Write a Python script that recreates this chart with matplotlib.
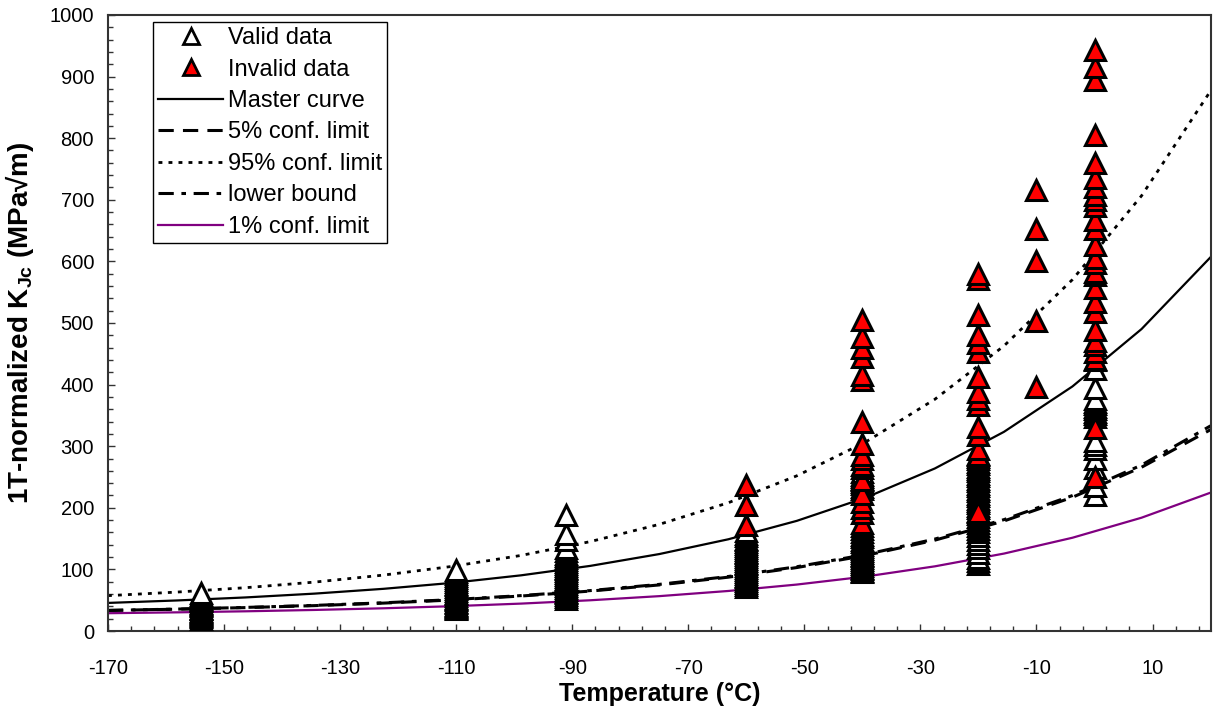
import numpy as np
import matplotlib
matplotlib.use("Agg")
import matplotlib.pyplot as plt
from matplotlib.lines import Line2D

plt.rcParams['font.family'] = ['Liberation Sans', 'DejaVu Sans']
plt.rcParams['mathtext.fontset'] = 'custom'
plt.rcParams['mathtext.rm'] = 'Liberation Sans'
plt.rcParams['mathtext.bf'] = 'Liberation Sans:bold'
plt.rcParams['axes.unicode_minus'] = False

# test temperatures (deg C) and 1T-normalized KJc values
K_valid_154 = [20, 22, 24, 26, 27, 29, 31, 33, 35, 36, 38, 40, 42, 44, 46, 48, 50, 52, 55, 58, 61]
K_valid_110 = [35, 37, 39, 41, 43, 45, 47, 50, 52, 54, 57, 60, 62, 65, 68, 71, 74, 77, 80, 83,
               86, 89, 92, 95, 99]
K_valid_91 = [52, 55, 58, 61, 64, 67, 70, 73, 76, 79, 82, 85, 88, 91, 94, 97, 100, 103, 106,
              109, 112, 115, 118, 121, 125, 130, 135, 147, 157, 189]
K_valid_60 = [72, 75, 78, 81, 84, 87, 90, 93, 96, 99, 102, 105, 108, 111, 114, 117, 120, 123,
              126, 129, 132, 135, 138, 141, 144, 147, 150, 154, 158, 162]
K_valid_40 = [95, 97, 100, 103, 106, 109, 112, 115, 118, 121, 124, 127, 130, 133, 136, 140,
              144, 148, 152, 156, 160, 165, 230, 234, 238, 242, 246, 250, 254, 258]
K_valid_20 = [108, 113, 118, 126, 134, 141, 148, 155, 160, 165, 170, 175, 180, 185, 190, 195,
              199, 203, 207, 211, 215, 219, 223, 227, 231, 235, 239, 243, 247, 251, 255, 259,
              263, 267, 271, 275, 279, 283, 287]
K_valid_0 = [221, 236, 264, 280, 296, 302, 308, 348, 352, 356, 360, 364, 368, 372, 377, 394,
             426, 440]

K_invalid_60 = [172, 205, 237]
K_invalid_40 = [170, 175, 191, 200, 209, 223, 245, 264, 270, 280, 285, 304, 339, 407, 415, 445,
                459, 477, 505]
K_invalid_20 = [193, 286, 296, 318, 331, 367, 377, 388, 412, 453, 467, 480, 513, 572, 580]
K_invalid_10 = [396, 503, 600, 653, 716]
K_invalid_0 = [250, 329, 442, 453, 464, 470, 489, 518, 534, 556, 578, 583, 597, 605, 627, 653,
               667, 690, 700, 708, 720, 735, 759, 805, 894, 916, 943]

T_valid = ([-154] * len(K_valid_154) + [-110] * len(K_valid_110) + [-91] * len(K_valid_91)
           + [-60] * len(K_valid_60) + [-40] * len(K_valid_40) + [-20] * len(K_valid_20)
           + [0] * len(K_valid_0))
K_valid = K_valid_154 + K_valid_110 + K_valid_91 + K_valid_60 + K_valid_40 + K_valid_20 + K_valid_0

T_invalid = ([-60] * len(K_invalid_60) + [-40] * len(K_invalid_40) + [-20] * len(K_invalid_20)
             + [-10] * len(K_invalid_10) + [0] * len(K_invalid_0))
K_invalid = K_invalid_60 + K_invalid_40 + K_invalid_20 + K_invalid_10 + K_invalid_0

# curves, read at the chart's line vertices
T_curve = [-170, -158.1, -146.3, -134.4, -122.5, -110.6, -98.8, -86.9, -75.0,
           -63.1, -51.3, -39.4, -27.5, -15.6, -3.8, 8.1, 20.0]
K_master = [45.6, 49.6, 54.5, 60.7, 68.5, 78.2, 90.4, 105.7, 124.9, 148.9,
            178.8, 216.6, 263.9, 323.3, 397.0, 490.1, 606.8]
K_05 = [33.4, 35.4, 38.0, 41.2, 45.3, 50.4, 56.8, 64.8, 74.8, 87.4, 103.0,
        122.7, 147.5, 178.6, 217.1, 265.8, 326.8]
K_95 = [57.4, 63.2, 70.3, 79.4, 90.8, 105.0, 122.7, 145.1, 173.1, 208.2,
        251.9, 307.0, 376.2, 462.8, 570.4, 706.4, 876.7]
K_lower = [33.4, 35.6, 38.3, 41.6, 45.8, 51.0, 57.5, 65.6, 75.7, 88.5, 104.3,
           124.2, 149.3, 180.8, 219.9, 269.3, 333.0]
K_01 = [28.9, 30.3, 32.0, 34.2, 36.9, 40.3, 44.5, 49.9, 56.6, 65.0, 75.4,
        88.5, 105.0, 125.7, 151.4, 183.9, 224.6]

fig = plt.figure(figsize=(12.13, 7.11), dpi=100)
ax = fig.add_axes([0.089, 0.1125, 0.909, 0.8665])

l_master, = ax.plot(T_curve, K_master, '-', color='black', lw=1.6)
l_05, = ax.plot(T_curve, K_05, color='black', lw=2.2, dashes=(5, 3))
l_95, = ax.plot(T_curve, K_95, color='black', lw=2, dashes=(1.4, 2.2))
l_low, = ax.plot(T_curve, K_lower, color='black', lw=2.2, dashes=(5, 2.5, 1.5, 2.5))
l_01, = ax.plot(T_curve, K_01, '-', color='#800080', lw=1.6)

ax.plot(T_valid, K_valid, '^', ms=14, mfc='white', mec='black', mew=2.2, ls='none', zorder=4)
ax.plot(T_invalid, K_invalid, '^', ms=14, mfc='red', mec='black', mew=2.2, ls='none', zorder=5)

h_valid = Line2D([], [], marker='^', ms=11, mfc='white', mec='black', mew=2, ls='none')
h_invalid = Line2D([], [], marker='^', ms=11, mfc='red', mec='black', mew=2, ls='none')

leg = ax.legend([h_valid, h_invalid, l_master, l_05, l_95, l_low, l_01],
                ['Valid data', 'Invalid data', 'Master curve', '5% conf. limit',
                 '95% conf. limit', 'lower bound', '1% conf. limit'],
                loc='upper left', bbox_to_anchor=(0.0408, 0.9886), fontsize=17,
                handlelength=2.75, handletextpad=0.2, labelspacing=0.4,
                borderpad=0.22, borderaxespad=0, fancybox=False, framealpha=1,
                edgecolor='black')
leg.get_frame().set_linewidth(1.0)

ax.set_xlim(-170, 20)
ax.set_ylim(0, 1000)
ax.set_xticks(np.arange(-170, 21, 20))
ax.set_xticks(np.arange(-170, 21, 4), minor=True)
ax.set_yticks(np.arange(0, 1001, 100))
ax.set_yticks(np.arange(0, 1001, 20), minor=True)
ax.tick_params(which='both', direction='in', labelsize=14.5, width=1, color='#333333')
ax.tick_params(which='major', length=5)
ax.tick_params(which='minor', length=3.5)
ax.tick_params(axis='x', which='major', pad=20)
ax.tick_params(axis='y', which='major', pad=10)
for s in ax.spines.values():
    s.set_color('#333333')
    s.set_linewidth(1.5)

ax.set_xlabel('Temperature (°C)', fontsize=18, fontweight='bold', labelpad=3)
ax.set_ylabel(r'1T-normalized K$_{\mathbf{Jc}}$ (MPa√m)', fontsize=20, fontweight='bold', labelpad=10)

fig.savefig('out.png', dpi=100)
